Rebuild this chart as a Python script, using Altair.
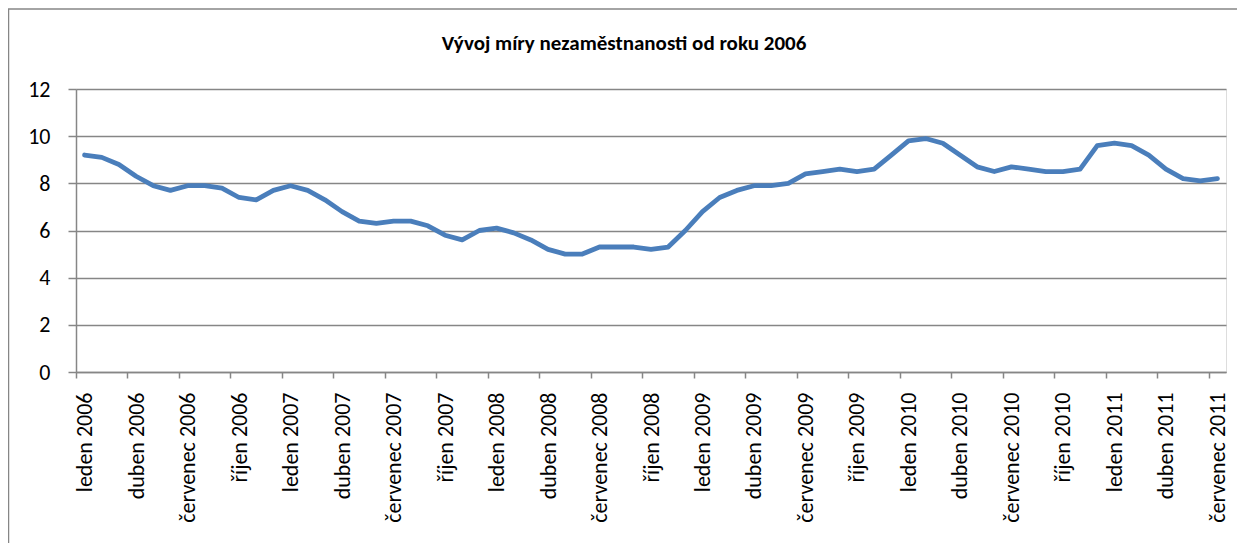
import altair as alt
import pandas as pd

# Monthly unemployment rate (%), leden 2006 .. červenec 2011
values = [
    9.2, 9.1, 8.8, 8.3, 7.9, 7.7, 7.9, 7.9, 7.8, 7.4, 7.3, 7.7,   # 2006
    7.9, 7.7, 7.3, 6.8, 6.4, 6.3, 6.4, 6.4, 6.2, 5.8, 5.6, 6.0,   # 2007
    6.1, 5.9, 5.6, 5.2, 5.0, 5.0, 5.3, 5.3, 5.3, 5.2, 5.3, 6.0,   # 2008
    6.8, 7.4, 7.7, 7.9, 7.9, 8.0, 8.4, 8.5, 8.6, 8.5, 8.6, 9.2,   # 2009
    9.8, 9.9, 9.7, 9.2, 8.7, 8.5, 8.7, 8.6, 8.5, 8.5, 8.6, 9.6,   # 2010
    9.7, 9.6, 9.2, 8.6, 8.2, 8.1, 8.2,                            # 2011
]
month_names = ["leden", "únor", "březen", "duben", "květen", "červen",
               "červenec", "srpen", "září", "říjen", "listopad", "prosinec"]
start_year = 2006
y_ticks = [0, 2, 4, 6, 8, 10, 12]
title_text = "Vývoj míry nezaměstnanosti od roku 2006"

labels = [f"{month_names[i % 12]} {start_year + i // 12}" for i in range(len(values))]
df = pd.DataFrame({"idx": list(range(len(values))), "value": values, "label": labels})

n = len(values)
W, H = 1150, 283
half = W / n / 2
label_values = list(range(0, n, 3))
label_array = "[" + ",".join("'" + s + "'" for s in labels) + "]"

FONT = "Carlito, Lato, sans-serif"
GRAY = "#868686"

line = alt.Chart(df).mark_line(
    color="#4A7EBB", strokeWidth=4.8, strokeCap="round", strokeJoin="round"
).encode(
    x=alt.X("idx:Q",
            scale=alt.Scale(domain=[-0.5, n - 0.5], nice=False, zero=False),
            axis=alt.Axis(values=label_values, labelExpr=label_array + "[datum.value]",
                          labelAngle=-90, labelAlign="right", labelBaseline="middle",
                          tickOffset=-half, labelOffset=half, tickSize=6,
                          labelPadding=14, grid=False, title=None,
                          domainColor=GRAY, tickColor=GRAY, domainWidth=1.5, tickWidth=1.5,
                          labelFont=FONT, labelFontSize=22, labelColor="#000000",
                          labelOverlap=False, labelBound=False, labelFlush=False)),
    y=alt.Y("value:Q",
            scale=alt.Scale(domain=[0, 12], nice=False),
            axis=alt.Axis(values=y_ticks, tickSize=8, labelPadding=18, title=None,
                          grid=True, gridColor=GRAY, gridWidth=1.5,
                          domainColor=GRAY, tickColor=GRAY, domainWidth=1.5, tickWidth=1.5,
                          labelFont=FONT, labelFontSize=22, labelColor="#000000")),
)

frame_data = alt.Data(values=[{"k": 0}])
top_border = alt.Chart(frame_data).mark_rule(color=GRAY, strokeWidth=1.5).encode(
    x=alt.value(-68), x2=alt.value(W + 30), y=alt.value(-80))
left_border = alt.Chart(frame_data).mark_rule(color=GRAY, strokeWidth=1.5).encode(
    x=alt.value(-67.5), y=alt.value(-80), y2=alt.value(H + 200))

chart = alt.layer(top_border, left_border, line).properties(
    width=W, height=H,
    title=alt.TitleParams(title_text, font=FONT, fontSize=21, fontWeight="bold",
                          color="#000000", anchor="middle", baseline="alphabetic",
                          dx=-27, dy=63, offset=0),
    autosize=alt.AutoSizeParams(type="none"),
    padding={"left": 68, "top": 81, "right": 11, "bottom": 171},
).configure_view(stroke=None).configure(background="white")

chart.save("out.html", embed_options={"renderer": "svg", "actions": False})
